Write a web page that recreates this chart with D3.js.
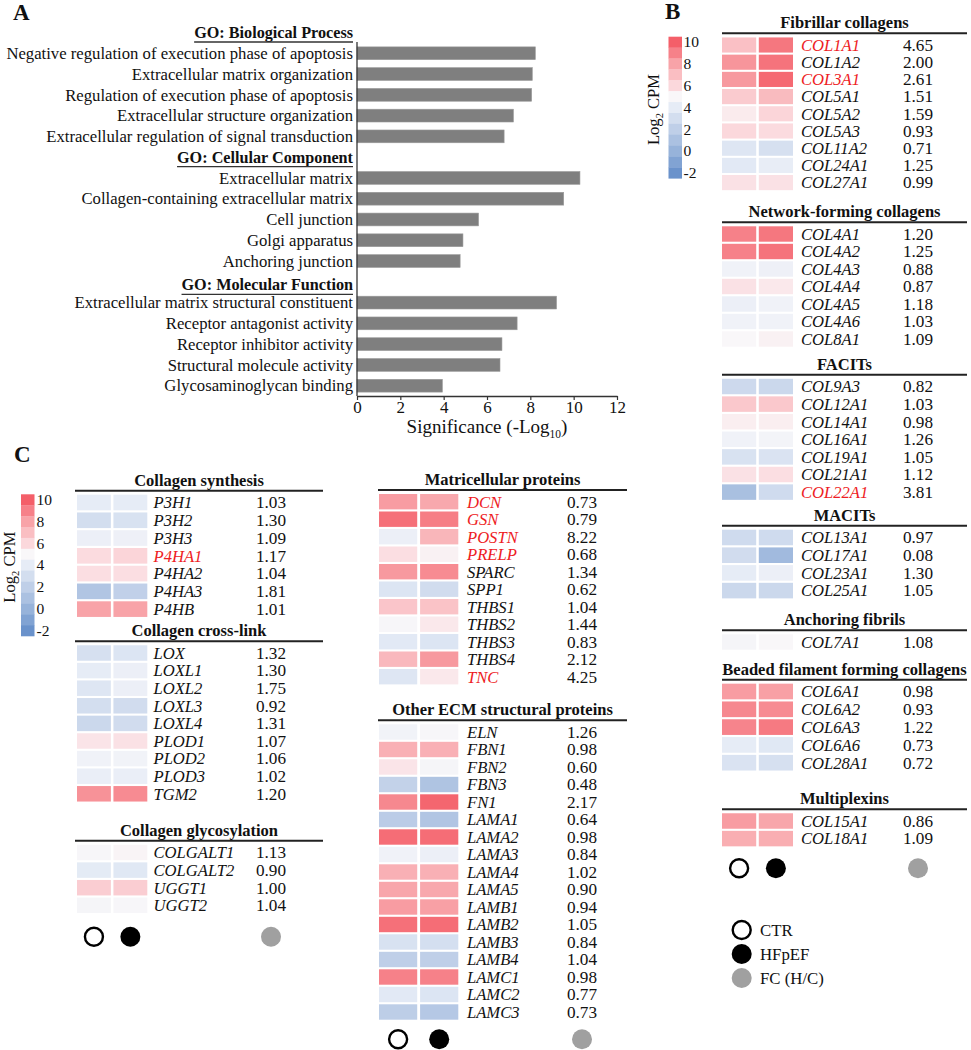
<!DOCTYPE html>
<html><head><meta charset="utf-8">
<script src="https://cdn.jsdelivr.net/npm/d3@7"></script>
<style>
body{margin:0;background:#fff;}
svg{display:block;font-family:"Liberation Serif","Times New Roman",serif;}
</style></head><body>
<svg id="chart" width="971" height="1050"></svg>
<script>
// ---------- Panel A data ----------
const goGroups = ["GO: Biological Process", "GO: Cellular Component", "GO: Molecular Function"];
const bpTerms = ["Negative regulation of execution phase of apoptosis", "Extracellular matrix organization", "Regulation of execution phase of apoptosis", "Extracellular structure organization", "Extracellular regulation of signal transduction"];
const bpValues = [8.23, 8.09, 8.06, 7.22, 6.79];
const ccTerms = ["Extracellular matrix", "Collagen-containing extracellular matrix", "Cell junction", "Golgi apparatus", "Anchoring junction"];
const ccValues = [10.29, 9.54, 5.61, 4.89, 4.76];
const mfTerms = ["Extracellular matrix structural constituent", "Receptor antagonist activity", "Receptor inhibitor activity", "Structural molecule activity", "Glycosaminoglycan binding"];
const mfValues = [9.21, 7.39, 6.69, 6.60, 3.94];
const sigTicks = [0, 2, 4, 6, 8, 10, 12];

// ---------- Shared heatmap data ----------
const colorbarTicks = [10, 8, 6, 4, 2, 0, -2];
const groupLabels = ["CTR", "HFpEF"];
const legendLabels = ["CTR", "HFpEF", "FC (H/C)"];
const highlightedGenes = ["COL1A1", "COL3A1", "COL22A1", "P4HA1", "DCN", "GSN", "POSTN", "PRELP", "TNC"];

// ---------- Panel B data ----------
const fibrillarGenes = ["COL1A1", "COL1A2", "COL3A1", "COL5A1", "COL5A2", "COL5A3", "COL11A2", "COL24A1", "COL27A1"];
const fibrillarCTR = [6.9, 8.4, 8.3, 6.5, 5.4, 6.0, 3.6, 3.8, 5.7];
const fibrillarHF = [9.3, 9.4, 9.7, 7.1, 6.1, 5.9, 3.2, 4.1, 5.7];
const fibrillarFC = [4.65, 2.00, 2.61, 1.51, 1.59, 0.93, 0.71, 1.25, 0.99];

const networkGenes = ["COL4A1", "COL4A2", "COL4A3", "COL4A4", "COL4A5", "COL4A6", "COL8A1"];
const networkCTR = [9.0, 9.0, 4.5, 5.7, 4.3, 4.5, 5.0];
const networkHF = [9.3, 9.4, 4.4, 5.5, 4.5, 4.5, 5.2];
const networkFC = [1.20, 1.25, 0.88, 0.87, 1.18, 1.03, 1.09];

const facitGenes = ["COL9A3", "COL12A1", "COL14A1", "COL16A1", "COL19A1", "COL21A1", "COL22A1"];
const facitCTR = [2.7, 6.6, 5.3, 4.5, 3.3, 5.7, 0.9];
const facitHF = [2.6, 6.6, 5.3, 4.7, 3.4, 5.8, 2.8];
const facitFC = [0.82, 1.03, 0.98, 1.26, 1.05, 1.12, 3.81];

const macitGenes = ["COL13A1", "COL17A1", "COL23A1", "COL25A1"];
const macitCTR = [2.8, 2.9, 4.0, 2.6];
const macitHF = [2.8, 0.5, 4.3, 2.6];
const macitFC = [0.97, 0.08, 1.30, 1.05];

const anchoringGenes = ["COL7A1"];
const anchoringCTR = [4.8];
const anchoringHF = [5.0];
const anchoringFC = [1.08];

const beadedGenes = ["COL6A1", "COL6A2", "COL6A3", "COL6A6", "COL28A1"];
const beadedCTR = [8.2, 8.8, 8.9, 4.0, 3.4];
const beadedHF = [8.1, 8.7, 9.2, 3.7, 3.2];
const beadedFC = [0.98, 0.93, 1.22, 0.73, 0.72];

const multiplexinGenes = ["COL15A1", "COL18A1"];
const multiplexinCTR = [8.2, 7.6];
const multiplexinHF = [7.9, 7.6];
const multiplexinFC = [0.86, 1.09];

// ---------- Panel C data ----------
const synthesisGenes = ["P3H1", "P3H2", "P3H3", "P4HA1", "P4HA2", "P4HA3", "P4HB"];
const synthesisCTR = [4.0, 3.0, 4.3, 5.9, 5.8, 1.3, 8.0];
const synthesisHF = [4.0, 3.3, 4.4, 6.1, 5.8, 2.1, 8.0];
const synthesisFC = [1.03, 1.30, 1.09, 1.17, 1.04, 1.81, 1.01];

const crosslinkGenes = ["LOX", "LOXL1", "LOXL2", "LOXL3", "LOXL4", "PLOD1", "PLOD2", "PLOD3", "TGM2"];
const crosslinkCTR = [3.2, 4.0, 3.6, 3.0, 2.6, 5.6, 4.5, 4.2, 8.5];
const crosslinkHF = [3.5, 4.3, 4.3, 2.9, 2.9, 5.7, 4.6, 4.2, 8.7];
const crosslinkFC = [1.32, 1.30, 1.75, 0.92, 1.31, 1.07, 1.06, 1.02, 1.20];

const glycoGenes = ["COLGALT1", "COLGALT2", "UGGT1", "UGGT2"];
const glycoCTR = [4.9, 3.9, 6.4, 4.8];
const glycoHF = [5.1, 3.7, 6.4, 4.9];
const glycoFC = [1.13, 0.90, 1.00, 1.04];

const matriGenes = ["DCN", "GSN", "POSTN", "PRELP", "SPARC", "SPP1", "THBS1", "THBS2", "THBS3", "THBS4", "TNC"];
const matriCTR = [8.2, 9.5, 4.3, 5.8, 8.3, 3.5, 6.7, 4.9, 3.8, 7.2, 3.6];
const matriHF = [7.8, 9.1, 7.3, 5.2, 8.7, 2.9, 6.8, 5.5, 3.5, 8.3, 5.5];
const matriFC = [0.73, 0.79, 8.22, 0.68, 1.34, 0.62, 1.04, 1.44, 0.83, 2.12, 4.25];

const otherGenes = ["ELN", "FBN1", "FBN2", "FBN3", "FN1", "LAMA1", "LAMA2", "LAMA3", "LAMA4", "LAMA5", "LAMB1", "LAMB2", "LAMB3", "LAMB4", "LAMC1", "LAMC2", "LAMC3"];
const otherCTR = [4.6, 7.5, 5.6, 2.2, 8.8, 1.8, 9.6, 4.5, 7.5, 7.9, 8.2, 9.5, 3.3, 2.0, 9.0, 3.8, 1.9];
const otherHF = [4.9, 7.5, 4.8, 1.2, 9.8, 1.3, 9.6, 4.3, 7.5, 7.8, 8.1, 9.6, 3.1, 2.0, 9.0, 3.5, 1.5];
const otherFC = [1.26, 0.98, 0.60, 0.48, 2.17, 0.64, 0.98, 0.84, 1.02, 0.90, 0.94, 1.05, 0.84, 1.04, 0.98, 0.77, 0.73];

// ---------- Drawing ----------
const svg = d3.select("#chart");
const ink = "#111";
const fmt = d3.format(".2f");
const colorScale = d3.scaleLinear()
  .domain([-2, 0, 2, 4, 5, 6, 8, 10])
  .range(["#6a92cb", "#97b3da", "#bfcfe8", "#e6ecf6", "#f9f7f9", "#fbd8dc", "#f8a3a8", "#f45f69"])
  .clamp(true);

// Panel letters
[["A", 13, 20], ["B", 665, 19], ["C", 14, 462]].forEach(([t, x, y]) => {
  svg.append("text").attr("x", x).attr("y", y).attr("font-size", 23).attr("font-weight", "bold").attr("fill", ink).text(t);
});

// ----- Panel A -----
const slots = [];
[[goGroups[0], bpTerms, bpValues], [goGroups[1], ccTerms, ccValues], [goGroups[2], mfTerms, mfValues]].forEach(([grp, terms, vals]) => {
  slots.push({key: grp, header: true});
  terms.forEach((t, i) => slots.push({key: t, header: false, value: vals[i]}));
});
const xA = d3.scaleLinear().domain([0, 12]).range([357, 617]);
const yA = d3.scalePoint().domain(slots.map(s => s.key)).range([32.5, 385.7]);
const gA = svg.append("g");
const labelRight = 353;
slots.forEach(s => {
  if (s.header) {
    const yy = yA(s.key) + (s.key === goGroups[2] ? 3 : 0);
    const t = gA.append("text").attr("x", labelRight).attr("y", yy + 5.5).attr("text-anchor", "end")
      .attr("font-size", 16.2).attr("font-weight", "bold").attr("fill", ink).text(s.key);
    const w = t.node().getComputedTextLength();
    gA.append("line").attr("x1", labelRight - w).attr("x2", labelRight).attr("y1", yy + 9.5).attr("y2", yy + 9.5)
      .attr("stroke", "#333").attr("stroke-width", 1.3);
  } else {
    gA.append("text").attr("x", labelRight).attr("y", yA(s.key) + 5.7).attr("text-anchor", "end")
      .attr("font-size", 16.7).attr("fill", ink).text(s.key);
    gA.append("rect").attr("x", xA(0)).attr("y", yA(s.key) - 6.4).attr("width", xA(s.value) - xA(0)).attr("height", 12.8)
      .attr("fill", "#7f7f7f").attr("stroke", "#9a9a9a").attr("stroke-width", 0.6);
  }
});
gA.append("line").attr("x1", xA(0)).attr("x2", xA(0)).attr("y1", 42).attr("y2", 396).attr("stroke", "#333").attr("stroke-width", 1.3);
const axA = gA.append("g").attr("transform", "translate(0,396)")
  .call(d3.axisBottom(xA).tickValues(sigTicks).tickSize(4).tickPadding(1).tickSizeOuter(0));
axA.select(".domain").attr("stroke", "#333").attr("stroke-width", 1.3);
axA.selectAll(".tick line").attr("stroke", "#333").attr("stroke-width", 1.2);
axA.selectAll(".tick text").attr("font-size", 17).attr("font-family", "Liberation Serif").attr("fill", ink);
const sigT = gA.append("text").attr("x", 487).attr("y", 433).attr("text-anchor", "middle").attr("font-size", 19).attr("fill", ink);
sigT.append("tspan").text("Significance (-Log");
sigT.append("tspan").attr("font-size", 11.5).attr("dy", 5).text("10");
sigT.append("tspan").attr("dy", -5).text(")");

// ----- Colour bars -----
function drawColorbar(x0, top, bottom, labelX, titleX) {
  const g = svg.append("g");
  const cy = d3.scaleLinear().domain([10.5, -2.5]).range([top, bottom]);
  const segH = (bottom - top) / 13;
  d3.range(10, -3, -1).forEach(v => {
    g.append("rect").attr("x", x0).attr("y", cy(v) - segH / 2).attr("width", 13.5).attr("height", segH + 0.3)
      .attr("fill", colorScale(v));
  });
  colorbarTicks.forEach(v => {
    g.append("text").attr("x", labelX).attr("y", cy(v) + 5.3).attr("font-size", 15.5).attr("fill", ink)
      .text(v < 0 ? "-" + Math.abs(v) : v);
  });
  const mid = (top + bottom) / 2 + 2;
  const t = g.append("text").attr("transform", `translate(${titleX},${mid}) rotate(-90)`)
    .attr("text-anchor", "middle").attr("font-size", 16.6).attr("fill", ink);
  t.append("tspan").text("Log");
  t.append("tspan").attr("font-size", 10.5).attr("dy", 4).text("2");
  t.append("tspan").attr("dy", -4).text(" CPM");
}
drawColorbar(668.5, 36.7, 178.3, 683.5, 658.5);
drawColorbar(21, 494.3, 636, 36.5, 14.5);

// ----- Heatmap sections -----
function makeSection(title, genes, ctr, hf, fc, first, pitch) {
  return {title, rows: genes.map((g, i) => ({gene: g, values: [ctr[i], hf[i]], fc: fc[i]})), first, pitch};
}
function drawColumn(col, sections, circleY) {
  const g = svg.append("g");
  const x = d3.scaleBand().domain(groupLabels).range(col.cellX).paddingInner(0.07);
  sections.forEach(sec => {
    const lineY = sec.first - 11.8;
    g.append("text").attr("x", (col.lineX[0] + col.lineX[1]) / 2).attr("y", lineY - 5)
      .attr("text-anchor", "middle").attr("font-size", 16.5).attr("font-weight", "bold").attr("fill", ink).text(sec.title);
    g.append("line").attr("x1", col.lineX[0]).attr("x2", col.lineX[1]).attr("y1", lineY).attr("y2", lineY)
      .attr("stroke", "#222").attr("stroke-width", 2);
    const n = sec.rows.length;
    const y = d3.scaleBand().domain(sec.rows.map(r => r.gene))
      .range([sec.first - sec.pitch / 2, sec.first - sec.pitch / 2 + n * sec.pitch])
      .paddingInner(0.12).paddingOuter(0.06);
    sec.rows.forEach(r => {
      groupLabels.forEach((grp, j) => {
        g.append("rect").attr("x", x(grp)).attr("y", y(r.gene)).attr("width", x.bandwidth()).attr("height", y.bandwidth())
          .attr("fill", colorScale(r.values[j]));
      });
      const cyy = y(r.gene) + y.bandwidth() / 2;
      g.append("text").attr("x", col.geneX).attr("y", cyy + 5.8).attr("font-size", 16.6).attr("font-style", "italic")
        .attr("fill", highlightedGenes.includes(r.gene) ? "#ee1c24" : ink).text(r.gene);
      g.append("text").attr("x", col.fcX).attr("y", cyy + 5.8).attr("text-anchor", "middle").attr("font-size", 17.2)
        .attr("fill", ink).text(fmt(r.fc));
    });
  });
  // group markers under the column
  const cx = [x(groupLabels[0]) + x.bandwidth() / 2, x(groupLabels[1]) + x.bandwidth() / 2, col.fcX];
  g.append("circle").attr("cx", cx[0]).attr("cy", circleY).attr("r", 9).attr("fill", "#fff").attr("stroke", "#000").attr("stroke-width", 2.4);
  g.append("circle").attr("cx", cx[1]).attr("cy", circleY).attr("r", 10).attr("fill", "#000");
  g.append("circle").attr("cx", cx[2]).attr("cy", circleY).attr("r", 10).attr("fill", "#a0a0a0");
}

drawColumn({cellX: [722, 793], geneX: 801, fcX: 918, lineX: [722, 967]}, [
  makeSection("Fibrillar collagens", fibrillarGenes, fibrillarCTR, fibrillarHF, fibrillarFC, 45, 17.2),
  makeSection("Network-forming collagens", networkGenes, networkCTR, networkHF, networkFC, 234, 17.5),
  makeSection("FACITs", facitGenes, facitCTR, facitHF, facitFC, 386.5, 17.6),
  makeSection("MACITs", macitGenes, macitCTR, macitHF, macitFC, 537.5, 17.7),
  makeSection("Anchoring fibrils", anchoringGenes, anchoringCTR, anchoringHF, anchoringFC, 642, 17.5),
  makeSection("Beaded filament forming collagens", beadedGenes, beadedCTR, beadedHF, beadedFC, 691.5, 17.8),
  makeSection("Multiplexins", multiplexinGenes, multiplexinCTR, multiplexinHF, multiplexinFC, 821, 17.6)
], 868.3);

drawColumn({cellX: [77, 147.3], geneX: 153.5, fcX: 271, lineX: [75, 323]}, [
  makeSection("Collagen synthesis", synthesisGenes, synthesisCTR, synthesisHF, synthesisFC, 502.5, 17.77),
  makeSection("Collagen cross-link", crosslinkGenes, crosslinkCTR, crosslinkHF, crosslinkFC, 653, 17.6),
  makeSection("Collagen glycosylation", glycoGenes, glycoCTR, glycoHF, glycoFC, 852.5, 17.6)
], 936.7);

drawColumn({cellX: [379, 458.3], geneX: 467, fcX: 582, lineX: [378, 627]}, [
  makeSection("Matricellular proteins", matriGenes, matriCTR, matriHF, matriFC, 501.7, 17.5),
  makeSection("Other ECM structural proteins", otherGenes, otherCTR, otherHF, otherFC, 732, 17.5)
], 1039.3);

// ----- Legend (panel B) -----
const lg = svg.append("g");
legendLabels.forEach((lab, i) => {
  const yy = 930 + i * 24;
  const c = lg.append("circle").attr("cx", 741.7).attr("cy", yy).attr("r", i === 0 ? 9 : 10);
  if (i === 0) c.attr("fill", "#fff").attr("stroke", "#000").attr("stroke-width", 2.4);
  else c.attr("fill", i === 1 ? "#000" : "#a0a0a0");
  lg.append("text").attr("x", 760).attr("y", yy + 5.8).attr("font-size", 16.8).attr("fill", ink).text(lab);
});
</script>
</body></html>
